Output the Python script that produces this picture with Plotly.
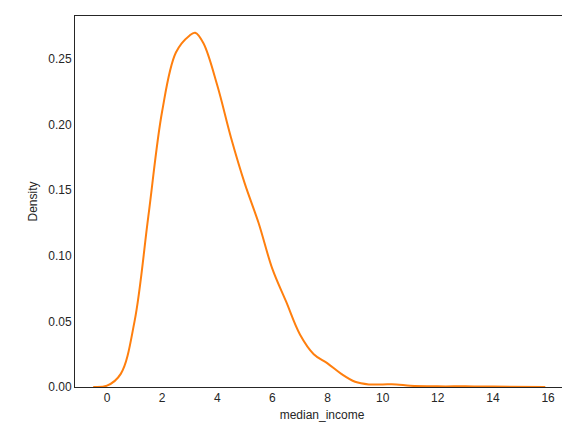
import plotly.graph_objects as go

# KDE curve
income = [-0.5, 0.0, 0.5, 1.0, 1.5, 2.0, 2.5, 3.0, 3.2, 3.5, 4.0, 4.5, 5.0, 5.5, 6.0,
          6.5, 7.0, 7.5, 8.0, 8.5, 9.0, 9.5, 10.0, 10.5, 11.0, 12.0, 13.0, 14.0, 15.9]
density = [0.0, 0.001, 0.01, 0.05, 0.13, 0.21, 0.255, 0.268, 0.27, 0.262, 0.23, 0.19,
           0.155, 0.125, 0.09, 0.065, 0.04, 0.025, 0.018, 0.01, 0.004, 0.002, 0.002,
           0.002, 0.001, 0.0005, 0.0005, 0.0003, 0.0]
x_ticks = [0, 2, 4, 6, 8, 10, 12, 14, 16]
y_ticks = [0.0, 0.05, 0.10, 0.15, 0.20, 0.25]

fig = go.Figure(go.Scatter(x=income, y=density, mode='lines',
                           line=dict(color='#ff7f0e', width=2, shape='spline')))

axis_style = dict(showgrid=False, zeroline=False, showline=True, linecolor='#262626',
                  linewidth=1, mirror=True, ticks='', automargin=False,
                  tickfont=dict(size=12, color='#262626'),
                  title_font=dict(size=12, color='#262626'))
fig.update_xaxes(range=[-1.16, 16.76], tickvals=x_ticks, title_text='median_income',
                 title_standoff=6, **axis_style)
fig.update_yaxes(range=[0, 0.2828], tickvals=y_ticks,
                 ticktext=[f'{v:.2f}' for v in y_ticks], title_text='Density',
                 title_standoff=8, **axis_style)
fig.update_layout(width=570, height=428, plot_bgcolor='white', paper_bgcolor='white',
                  font=dict(family='Liberation Sans, Arial, sans-serif'),
                  margin=dict(l=67, r=9, t=8, b=49), showlegend=False)

fig.write_html('out.html')
